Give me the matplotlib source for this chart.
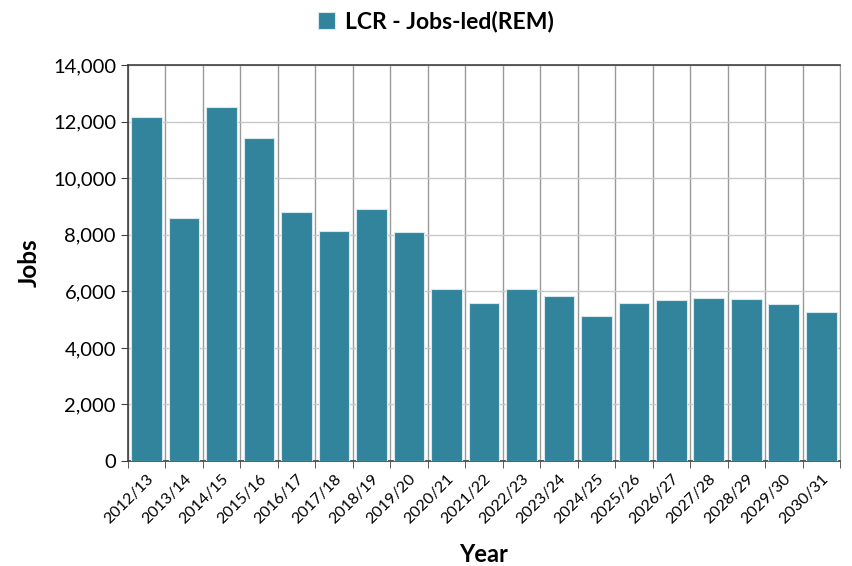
import numpy as np
import matplotlib.pyplot as plt
from matplotlib.ticker import FuncFormatter, FixedLocator

years = ['2012/13', '2013/14', '2014/15', '2015/16', '2016/17', '2017/18', '2018/19',
         '2019/20', '2020/21', '2021/22', '2022/23', '2023/24', '2024/25', '2025/26',
         '2026/27', '2027/28', '2028/29', '2029/30', '2030/31']
jobs = [12160, 8590, 12520, 11420, 8790, 8130, 8910, 8100, 6080, 5590,
        6080, 5830, 5140, 5590, 5680, 5760, 5715, 5540, 5255]

plt.rcParams['font.family'] = ['Lato', 'DejaVu Sans']

fig = plt.figure(figsize=(8.52, 5.66), dpi=100)
ax = fig.add_axes([0.150, 0.1855, 0.836, 0.6995])

x = np.arange(len(years))
ax.bar(x, jobs, width=0.82, color='#31849B', edgecolor='#d5e8ee', linewidth=0.8,
       label='LCR - Jobs-led(REM)', zorder=3)

ax.set_xlim(-0.5, len(years) - 0.5)
ax.set_ylim(0, 14000)
ax.set_yticks(np.arange(0, 14001, 2000))
ax.yaxis.set_major_formatter(FuncFormatter(lambda v, p: f'{int(v):,}'))

ax.set_xticks(x)
ax.set_xticklabels(years, rotation=45, ha='right', rotation_mode='anchor', fontsize=11.5)
ax.xaxis.set_minor_locator(FixedLocator(np.arange(-0.5, len(years), 1)))
ax.tick_params(axis='x', which='major', length=0, pad=8)
ax.tick_params(axis='x', which='minor', length=5, color='#404040')
ax.tick_params(axis='y', length=5, color='#404040', labelsize=14.5)

ax.grid(axis='y', which='major', color='#c8c8c8', linewidth=1, zorder=0)
ax.grid(axis='x', which='minor', color='#999999', linewidth=1, zorder=0)
ax.grid(axis='x', which='major', visible=False)

for s in ['left', 'bottom', 'top']:
    ax.spines[s].set_color('#404040')
    ax.spines[s].set_linewidth(1.2)
ax.spines['right'].set_color('#999999')

ax.set_xlabel('Year', fontsize=17, fontweight='bold', labelpad=12)
ax.set_ylabel('Jobs', fontsize=17.5, fontweight='bold', labelpad=9)

fig.legend(*ax.get_legend_handles_labels(), loc='center',
           bbox_to_anchor=(436 / 852, 1 - 22 / 566), frameon=False,
           prop={'weight': 'bold', 'size': 16.5}, handlelength=0.75, handleheight=0.75,
           handletextpad=0.45)

plt.savefig('out.png', dpi=100)
plt.close()
